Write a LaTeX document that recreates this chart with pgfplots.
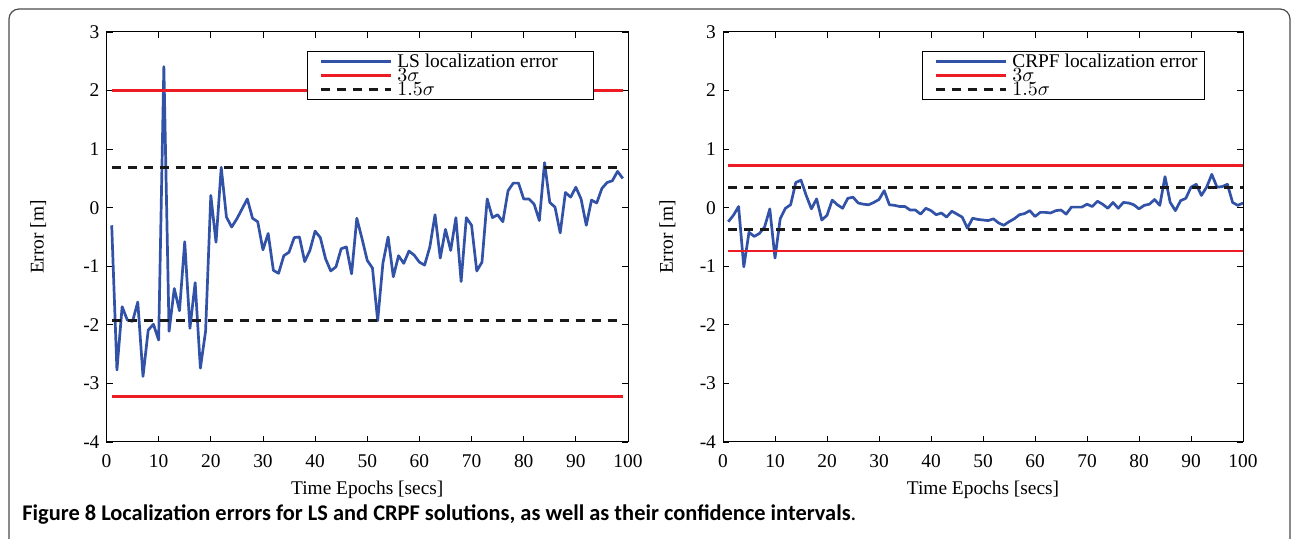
\documentclass[border=0pt]{standalone}
\usepackage{fontspec}
\setmainfont{Liberation Serif}
\newfontfamily\capfont{Carlito}
\usepackage{pgfplots}
\pgfplotsset{compat=1.18}

\definecolor{lblue}{RGB}{50,82,168}
\definecolor{lred}{RGB}{237,28,36}
\definecolor{ldash}{RGB}{25,25,25}

\pgfplotstableread{
x y
1 -0.30
2 -2.77
3 -1.69
4 -1.92
5 -1.94
6 -1.61
7 -2.88
8 -2.09
9 -1.99
10 -2.26
11 2.41
12 -2.11
13 -1.38
14 -1.76
15 -0.58
16 -2.06
17 -1.28
18 -2.74
19 -2.11
20 0.21
21 -0.59
22 0.69
23 -0.16
24 -0.33
25 -0.19
26 -0.02
27 0.15
28 -0.18
29 -0.24
30 -0.72
31 -0.44
32 -1.07
33 -1.12
34 -0.82
35 -0.76
36 -0.51
37 -0.50
38 -0.92
39 -0.73
40 -0.40
41 -0.51
42 -0.87
43 -1.08
44 -1.01
45 -0.70
46 -0.67
47 -1.13
48 -0.18
49 -0.53
50 -0.90
51 -1.03
52 -1.93
53 -0.95
54 -0.50
55 -1.18
56 -0.82
57 -0.95
58 -0.74
59 -0.81
60 -0.93
61 -0.98
62 -0.67
63 -0.12
64 -0.86
65 -0.37
66 -0.73
67 -0.17
68 -1.26
69 -0.17
70 -0.30
71 -1.08
72 -0.93
73 0.15
74 -0.17
75 -0.12
76 -0.24
77 0.29
78 0.42
79 0.42
80 0.15
81 0.15
82 0.06
83 -0.22
84 0.77
85 0.09
86 0.01
87 -0.43
88 0.26
89 0.18
90 0.35
91 0.15
92 -0.30
93 0.13
94 0.08
95 0.33
96 0.43
97 0.46
98 0.62
99 0.50
}\lsdata

\pgfplotstableread{
x y
1 -0.24
2 -0.13
3 0.02
4 -1.01
5 -0.42
6 -0.49
7 -0.44
8 -0.33
9 -0.02
10 -0.86
11 -0.19
12 -0.01
13 0.05
14 0.43
15 0.47
16 0.21
17 -0.02
18 0.15
19 -0.21
20 -0.13
21 0.13
22 0.05
23 -0.01
24 0.16
25 0.18
26 0.08
27 0.06
28 0.05
29 0.09
30 0.14
31 0.29
32 0.05
33 0.04
34 0.02
35 0.02
36 -0.04
37 -0.04
38 -0.11
39 -0.01
40 -0.05
41 -0.12
42 -0.09
43 -0.16
44 -0.06
45 -0.11
46 -0.16
47 -0.35
48 -0.18
49 -0.20
50 -0.21
51 -0.22
52 -0.19
53 -0.26
54 -0.30
55 -0.24
56 -0.19
57 -0.12
58 -0.10
59 -0.05
60 -0.15
61 -0.08
62 -0.08
63 -0.09
64 -0.05
65 -0.04
66 -0.11
67 0.01
68 0.01
69 0.01
70 0.06
71 0.02
72 0.11
73 0.06
74 -0.01
75 0.09
76 -0.01
77 0.09
78 0.08
79 0.05
80 -0.02
81 0.04
82 0.06
83 0.14
84 0.04
85 0.53
86 0.09
87 -0.05
88 0.12
89 0.16
90 0.35
91 0.40
92 0.21
93 0.35
94 0.57
95 0.35
96 0.36
97 0.40
98 0.09
99 0.04
100 0.08
}\crpfdata

\pgfplotsset{
  mystyle/.style={
    scale only axis, height=205pt,
    xmin=0, xmax=100, ymin=-4, ymax=3,
    xtick={0,10,...,100}, ytick={-4,-3,-2,-1,0,1,2,3},
    tick align=inside, major tick length=3pt,
    tick style={black, line width=0.4pt},
    axis line style={line width=0.5pt},
    /pgf/number format/assume math mode=true,
    ticklabel style={font=\fontsize{9.7}{10}\selectfont},
    label style={font=\fontsize{9.7}{10}\selectfont},
    xlabel={Time Epochs [secs]}, ylabel={Error [m]},
    xlabel style={at={(axis description cs:0.5,-0.117)}, anchor=center},
    xticklabel style={yshift=-3pt},
    legend cell align=left,
    legend image code/.code={\draw[##1] (0pt,0pt) -- (35pt,0pt);},
    legend style={draw=black, line width=0.6pt, fill=white,
      inner xsep=6pt, inner ysep=1.5pt,
      nodes={inner sep=0pt, text height=6.5pt, text depth=0.5pt},
      row sep=0pt, font=\fontsize{9.7}{10}\selectfont,
      /tikz/every odd column/.append style={column sep=2.5pt}},
  },
  blueline/.style={lblue, line width=1.35pt, line join=round, no markers},
  redline/.style={lred, line width=1.35pt, no markers},
  dashline/.style={ldash, line width=1.35pt, dash pattern=on 4.5pt off 3.5pt, no markers},
}

\begin{document}
\begin{tikzpicture}
\path[use as bounding box] (0,0) rectangle (646pt,-269.5pt);
\draw[gray!60!black, line width=0.6pt, rounded corners=5pt] (4.5pt,-280pt) -- (4.5pt,-4.5pt) -- (645pt,-4.5pt) -- (645pt,-280pt);

\begin{axis}[mystyle, width=260.75pt, at={(53.25pt,-16pt)}, anchor=north west,
  ylabel style={at={(axis description cs:-0.131,0.5)}, anchor=center},
  legend style={at={(0.3845,0.9537)}, anchor=north west}]
\addplot[blueline] table {\lsdata};
\addlegendentry{\makebox[92pt][l]{LS localization error}}
\addplot[redline] coordinates {(1,2.0) (99,2.0)};
\addlegendentry{$3\sigma$}
\addplot[dashline] coordinates {(1,0.69) (99,0.69)};
\addlegendentry{$1.5\sigma$}
\addplot[redline, forget plot] coordinates {(1,-3.22) (99,-3.22)};
\addplot[dashline, forget plot] coordinates {(1,-1.92) (99,-1.92)};
\end{axis}

\begin{axis}[mystyle, width=260pt, at={(361.5pt,-16pt)}, anchor=north west,
  ylabel style={at={(axis description cs:-0.107,0.5)}, anchor=center},
  legend style={at={(0.3827,0.9537)}, anchor=north west}]
\addplot[blueline] table {\crpfdata};
\addlegendentry{\makebox[90pt][l]{CRPF localization error}}
\addplot[redline] coordinates {(1,0.72) (100,0.72)};
\addlegendentry{$3\sigma$}
\addplot[dashline] coordinates {(1,0.35) (100,0.35)};
\addlegendentry{$1.5\sigma$}
\addplot[redline, forget plot] coordinates {(1,-0.74) (100,-0.74)};
\addplot[dashline, forget plot] coordinates {(1,-0.37) (100,-0.37)};
\end{axis}

\node[anchor=base west, inner sep=0pt] at (11pt,-260.5pt)
  {\capfont\fontsize{11.2}{13}\selectfont\textbf{Figure 8 Localization errors for LS and CRPF solutions, as well as their confidence intervals}.};
\end{tikzpicture}
\end{document}
